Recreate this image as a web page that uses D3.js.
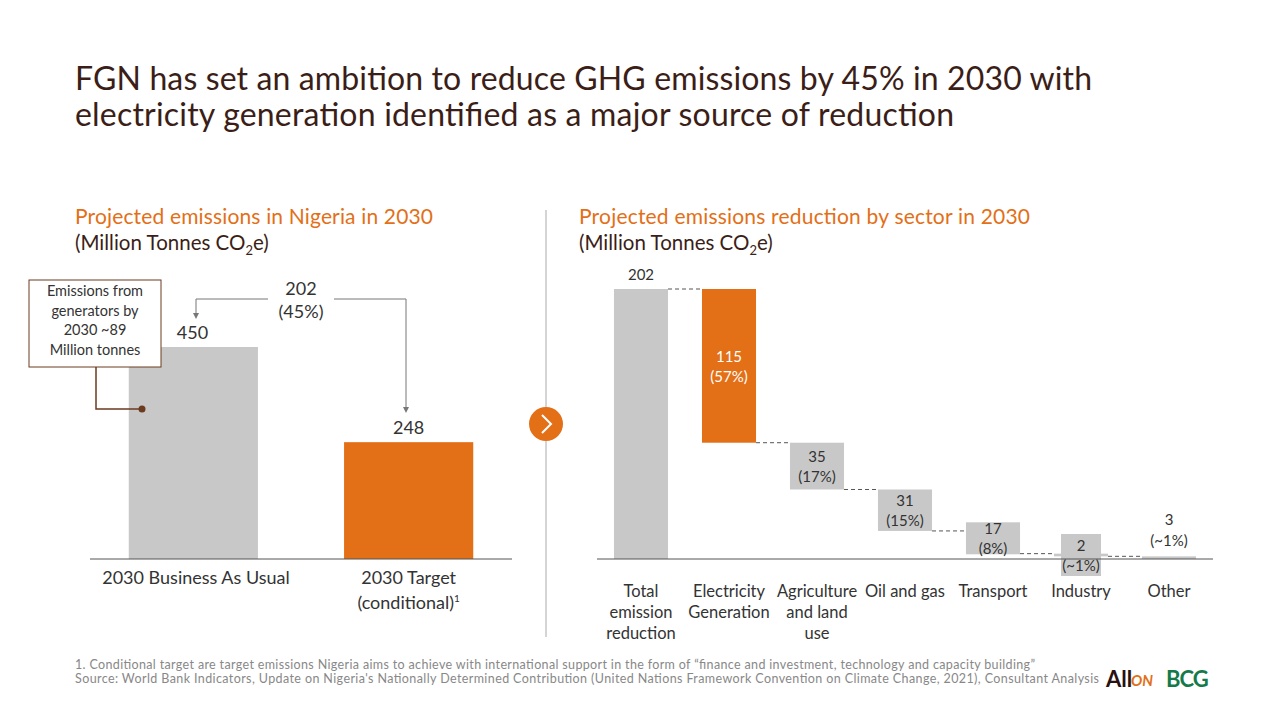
<!DOCTYPE html>
<html><head><meta charset="utf-8">
<script src="https://cdn.jsdelivr.net/npm/d3@7"></script>
<style>body{margin:0;background:#fff}svg{font-family:Lato,"Open Sans",sans-serif}</style>
</head><body><svg id="c" width="1280" height="720"></svg>
<script>
const leftCats=["2030 Business As Usual","2030 Target"];
const leftVals=[450,248];
const sectors=["Total emission reduction","Electricity Generation","Agriculture and land use","Oil and gas","Transport","Industry","Other"];
const sectorVals=[202,115,35,31,17,2,3];
const sectorPct=["","(57%)","(17%)","(15%)","(8%)","(~1%)","(~1%)"];
const sectorLines=[["Total","emission","reduction"],["Electricity","Generation"],["Agriculture","and land","use"],["Oil and gas"],["Transport"],["Industry"],["Other"]];

const svg=d3.select("#c");
const ORANGE="#e36f17",GREY="#c8c8c8",BROWN="#3b1e17",TXT="#333";
svg.append("text").attr("x",75).attr("y",90).attr("font-size",32).attr("fill",BROWN).attr("textLength",1017).text("FGN has set an ambition to reduce GHG emissions by 45% in 2030 with");
svg.append("text").attr("x",75).attr("y",126).attr("font-size",32).attr("fill",BROWN).attr("textLength",879).text("electricity generation identified as a major source of reduction");

function sub(x,y,t1,w){
  svg.append("text").attr("x",x).attr("y",y).attr("font-size",21).attr("fill",ORANGE).attr("textLength",w).text(t1);
  const t=svg.append("text").attr("x",x).attr("y",y+26).attr("font-size",20.5).attr("fill",BROWN);
  t.append("tspan").text("(Million Tonnes CO");
  t.append("tspan").attr("font-size",13).attr("dy",5).text("2");
  t.append("tspan").attr("dy",-5).text("e)");
}
sub(75,224,"Projected emissions in Nigeria in 2030",358);
sub(579,224,"Projected emissions reduction by sector in 2030",451);

// left chart
const base=559;
const yL=d3.scaleLinear().domain([0,450]).range([base,347]);
const xL=d3.scaleBand().domain(leftCats).range([90,512]).paddingInner(0.4).paddingOuter(0.18);
svg.selectAll(".lb").data(leftCats).join("rect").attr("x",d=>xL(d)).attr("width",xL.bandwidth())
 .attr("y",(d,i)=>yL(leftVals[i])).attr("height",(d,i)=>base-yL(leftVals[i])).attr("fill",(d,i)=>i?ORANGE:GREY);
svg.append("line").attr("x1",90).attr("x2",512).attr("y1",base).attr("y2",base).attr("stroke","#555");
svg.selectAll(".lv").data(leftCats).join("text").attr("x",(d,i)=>i?xL(d)+xL.bandwidth()/2:xL(d)+48).attr("y",(d,i)=>yL(leftVals[i])-8)
 .attr("text-anchor",(d,i)=>i?"middle":"start").attr("font-size",18).attr("fill",TXT).text((d,i)=>leftVals[i]);
svg.append("text").attr("x",196).attr("y",584).attr("text-anchor","middle").attr("font-size",18).attr("fill",TXT).text("2030 Business As Usual");
svg.append("text").attr("x",xL(leftCats[1])+xL.bandwidth()/2).attr("y",584).attr("text-anchor","middle").attr("font-size",18).attr("fill",TXT).text("2030 Target");
const t2=svg.append("text").attr("x",xL(leftCats[1])+xL.bandwidth()/2).attr("y",609).attr("text-anchor","middle").attr("font-size",18).attr("fill",TXT);
t2.append("tspan").text("(conditional)");t2.append("tspan").attr("font-size",10).attr("dy",-7).text("1");
// arrow
const ax1=196,ax2=406,ay=299;
svg.append("defs").append("marker").attr("id","ah").attr("viewBox","0 0 10 10").attr("refX",5).attr("refY",5).attr("markerWidth",6).attr("markerHeight",6).attr("orient","auto")
 .append("path").attr("d","M0,0L10,5L0,10z").attr("fill","#777");
svg.append("path").attr("d",`M268,${ay}H${ax1}V316`).attr("fill","none").attr("stroke","#777").attr("marker-end","url(#ah)");
svg.append("path").attr("d",`M334,${ay}H${ax2}V410`).attr("fill","none").attr("stroke","#777").attr("marker-end","url(#ah)");
svg.append("text").attr("x",301).attr("y",295).attr("text-anchor","middle").attr("font-size",18).attr("fill",TXT).text("202");
svg.append("text").attr("x",301).attr("y",318).attr("text-anchor","middle").attr("font-size",18).attr("fill",TXT).text("(45%)");
// callout
svg.append("rect").attr("x",29).attr("y",280).attr("width",132).attr("height",87).attr("fill","#fff").attr("stroke","#6b3a1f");
["Emissions from","generators by","2030 ~89","Million tonnes"].forEach((s,i)=>svg.append("text").attr("x",95).attr("y",296+i*19.5).attr("text-anchor","middle").attr("font-size",14.5).attr("fill",TXT).text(s));
svg.append("path").attr("d","M96,367V409H142").attr("fill","none").attr("stroke","#6b3a1f").attr("stroke-width",1.5);
svg.append("circle").attr("cx",142).attr("cy",409).attr("r",3.5).attr("fill","#6b3a1f");

// divider
svg.append("line").attr("x1",546).attr("x2",546).attr("y1",210).attr("y2",637).attr("stroke","#aaa");
svg.append("circle").attr("cx",546).attr("cy",424).attr("r",17).attr("fill",ORANGE);
svg.append("path").attr("d","M542,415L551,424L542,433").attr("fill","none").attr("stroke","#fff").attr("stroke-width",2);

// waterfall
const yR=d3.scaleLinear().domain([0,202]).range([base,289]);
const xR=d3.scaleBand().domain(sectors).range([597,1213]).paddingInner(0.386).paddingOuter(0.193);
let cum=0;const wf=sectorVals.map((v,i)=>{if(i===0)return{top:v,bot:0};const top=202-cum;cum+=v;return{top,bot:202-cum};});
const bw=xR.bandwidth();
wf.forEach((d,i)=>{
  const x=xR(sectors[i]);const y1=yR(d.top),y2=yR(Math.max(d.bot,0));
  svg.append("rect").attr("x",x).attr("y",y1).attr("width",bw).attr("height",Math.max(y2-y1,1.5)).attr("fill",i===1?ORANGE:GREY);
  if(i<wf.length-1){const yy=yR(i===0?d.top:d.bot);svg.append("line").attr("x1",x+bw).attr("x2",xR(sectors[i+1])).attr("y1",yy).attr("y2",yy).attr("stroke","#555").attr("stroke-dasharray","4,3");}
  const cx=x+bw/2,mid=(y1+y2)/2;
  if(i===0){svg.append("text").attr("x",cx).attr("y",y1-9).attr("text-anchor","middle").attr("font-size",15).attr("fill",TXT).text(sectorVals[i]);}
  else if(i===6){svg.append("text").attr("x",cx).attr("y",y1-31).attr("text-anchor","middle").attr("font-size",15).attr("fill",TXT).text(sectorVals[i]);
    svg.append("text").attr("x",cx).attr("y",y1-10).attr("text-anchor","middle").attr("font-size",15).attr("fill",TXT).text(sectorPct[i]);}
  else{
    if(y2-y1<40){const bh=i===5?42:32,bx=i===5?cx-20:x;svg.append("rect").attr("x",bx).attr("y",mid-bh/2-(i===4?4:0)).attr("width",i===5?40:bw).attr("height",bh).attr("fill",GREY);}
    const c=i===1?"#fff":TXT,my=i===4?mid-4:mid;
    svg.append("text").attr("x",cx).attr("y",my-4).attr("text-anchor","middle").attr("font-size",15).attr("fill",c).text(sectorVals[i]);
    svg.append("text").attr("x",cx).attr("y",my+16).attr("text-anchor","middle").attr("font-size",15).attr("fill",c).text(sectorPct[i]);
  }
  sectorLines[i].forEach((s,k)=>svg.append("text").attr("x",cx).attr("y",597+k*21).attr("text-anchor","middle").attr("font-size",16.5).attr("fill",TXT).text(s));
});
svg.append("line").attr("x1",597).attr("x2",1213).attr("y1",base).attr("y2",base).attr("stroke","#555");

svg.append("text").attr("x",75).attr("y",669).attr("font-size",12.5).attr("fill","#888").attr("textLength",960).text("1. Conditional target are target emissions Nigeria aims to achieve with international support in the form of “finance and investment, technology and capacity building”");
svg.append("text").attr("x",75).attr("y",683).attr("font-size",12.5).attr("fill","#888").attr("textLength",1024).text("Source: World Bank Indicators, Update on Nigeria's Nationally Determined Contribution (United Nations Framework Convention on Climate Change, 2021), Consultant Analysis");
svg.append("text").attr("x",1106).attr("y",687).attr("font-size",22).attr("font-weight","bold").attr("fill","#2a1010").text("All");
svg.append("text").attr("x",1131).attr("y",686).attr("font-size",15).attr("font-weight","bold").attr("font-style","italic").attr("fill",ORANGE).text("ON");
svg.append("text").attr("x",1166).attr("y",687).attr("font-size",22).attr("font-weight","bold").attr("fill","#157a4a").attr("letter-spacing",-1).text("BCG");
</script></body></html>
